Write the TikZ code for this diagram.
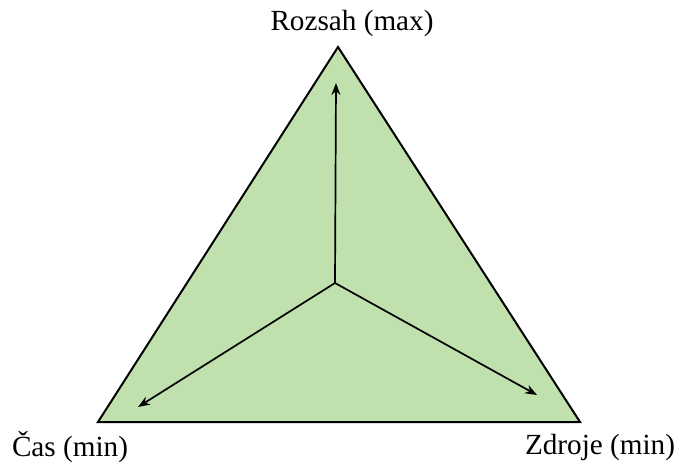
\documentclass[tikz,border=0pt]{standalone}
\usepackage{fontspec}
\setmainfont{Liberation Serif}
\usepackage{xcolor}
\usetikzlibrary{arrows.meta}
\definecolor{trigreen}{RGB}{192,224,174}
\begin{document}
\begin{tikzpicture}[x=0.5pt, y=-0.5pt, every node/.style={font=\fontsize{14.6}{17}\selectfont, inner sep=0pt}]
    \useasboundingbox (0,0) rectangle (679,464);
    % Vertices and centre
    \coordinate (top) at (338,47);
    \coordinate (left) at (98,422);
    \coordinate (right) at (580,422);
    \coordinate (mid) at (335,283);

    % Arrow ends
    \coordinate (up) at (336,83);
    \coordinate (dl) at (138,407);
    \coordinate (dr) at (537,395);

    % Triangle
    \draw[line width=1pt, fill=trigreen, line join=miter] (top) -- (right) -- (left) -- cycle;

    % Arrows
    \draw[line width=0.85pt, -{Stealth[length=6pt, width=4.5pt]}] (mid) -- (up);
    \draw[line width=0.85pt, -{Stealth[length=6pt, width=4.5pt]}] (mid) -- (dl);
    \draw[line width=0.85pt, -{Stealth[length=6pt, width=4.5pt]}] (mid) -- (dr);

    % Labels
    \node (rozsah) at (352,23) {Rozsah (max)};
    \node (cas) at (70,447) {Čas (min)};
    \node (zdroje) at (600,447) {Zdroje (min)};
\end{tikzpicture}
\end{document}
